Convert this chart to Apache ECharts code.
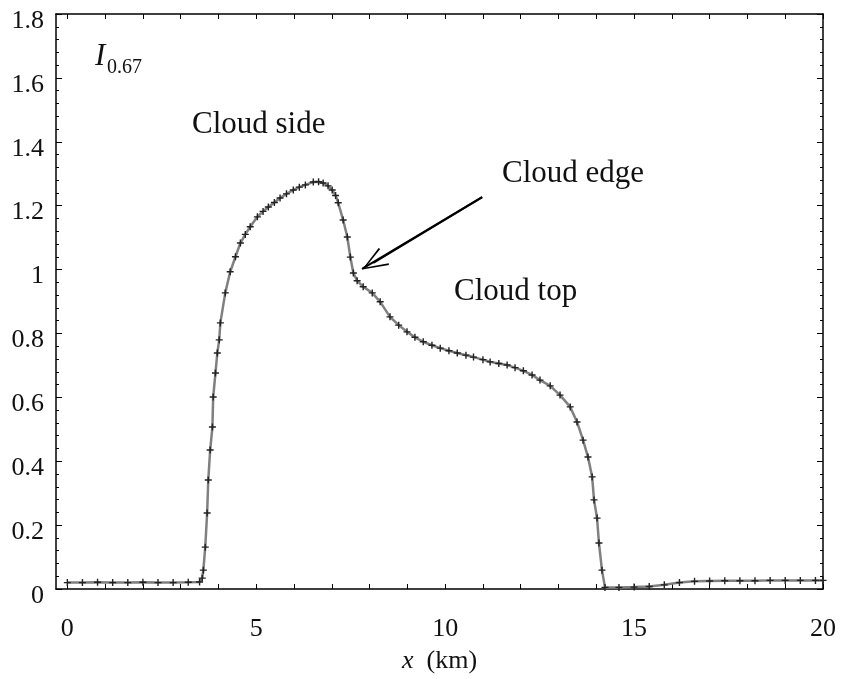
<!DOCTYPE html>
<html>
<head>
<meta charset="utf-8">
<script src="https://cdn.jsdelivr.net/npm/echarts@6/dist/echarts.min.js"></script>
<style>html,body{margin:0;padding:0;background:#fff;}#c{width:841px;height:679px;}</style>
</head>
<body>
<div id="c"></div>
<script>
// x positions (km)
var xKm = [0, 0.4, 0.8, 1.2, 1.6, 2.0, 2.4, 2.8, 3.2, 3.5,
  3.57, 3.6, 3.65, 3.7, 3.73, 3.78, 3.84, 3.86, 3.92, 3.97,
  4.02, 4.05, 4.18, 4.31, 4.45, 4.58, 4.71, 4.84, 5.03, 5.18,
  5.32, 5.48, 5.63, 5.8, 5.98, 6.14, 6.3, 6.51, 6.65, 6.77,
  6.9, 7.01, 7.1, 7.17, 7.3, 7.41, 7.49, 7.57, 7.67, 7.83,
  8.07, 8.28, 8.54, 8.77, 8.99, 9.2, 9.42, 9.65, 9.87, 10.1,
  10.32, 10.55, 10.75, 11.0, 11.19, 11.42, 11.64, 11.85, 12.07, 12.3,
  12.51, 12.78, 13.04, 13.31, 13.49, 13.65, 13.78, 13.89, 13.94, 14.02,
  14.07, 14.15, 14.23, 14.6, 15.0, 15.4, 15.8, 16.2, 16.6, 17.0,
  17.4, 17.8, 18.2, 18.6, 19.0, 19.4, 19.8, 20];
// reflectance I_0.67
var intensity = [0.02, 0.02, 0.021, 0.02, 0.02, 0.021, 0.02, 0.02, 0.021, 0.022,
  0.034, 0.059, 0.131, 0.238, 0.341, 0.435, 0.507, 0.601, 0.676, 0.739,
  0.78, 0.833, 0.927, 0.993, 1.04, 1.083, 1.11, 1.134, 1.165, 1.182,
  1.196, 1.21, 1.224, 1.237, 1.249, 1.258, 1.265, 1.274, 1.275, 1.271,
  1.262, 1.249, 1.232, 1.209, 1.155, 1.102, 1.039, 0.989, 0.965, 0.946,
  0.927, 0.899, 0.852, 0.826, 0.805, 0.788, 0.774, 0.763, 0.754, 0.746,
  0.739, 0.732, 0.726, 0.718, 0.711, 0.706, 0.701, 0.693, 0.683, 0.67,
  0.654, 0.636, 0.607, 0.57, 0.523, 0.466, 0.413, 0.351, 0.279, 0.222,
  0.144, 0.059, 0.005, 0.005, 0.006, 0.008, 0.013, 0.02, 0.024, 0.025,
  0.026, 0.026, 0.026, 0.027, 0.027, 0.027, 0.027, 0.027];
var xTickLabels = [0, 5, 10, 15, 20];
var xTickMarks = [0,1,2,3,4,5,6,7,8,9,10,11,12,13,14,15,16,17,18,19,20];
// annotation arrow: tail, tip, and the centre of the arrow head
var arrowFrom = [10.98, 1.227];
var arrowTo = [7.80, 1.002];
var arrowHeadCentre = [8.098, 1.021];

var pts = xKm.map(function (x, i) { return [x, intensity[i]]; });
var FONT = 'Liberation Serif';
var axisLineStyle = { show: true, onZero: false, lineStyle: { color: '#000', width: 1.5 } };

var chart = echarts.init(document.getElementById('c'));
chart.setOption({
  animation: false,
  backgroundColor: '#fff',
  grid: { left: 56, right: 18, top: 14, bottom: 89 },
  xAxis: [{
    type: 'value', min: -0.3, max: 20, position: 'bottom',
    axisLine: axisLineStyle,
    axisTick: { show: true, inside: true, length: 5, customValues: xTickMarks, lineStyle: { color: '#000' } },
    axisLabel: { customValues: xTickLabels, fontFamily: FONT, fontSize: 26, color: '#111', margin: 27 },
    splitLine: { show: false },
    name: '{i|x}  (km)', nameLocation: 'middle', nameGap: 59,
    nameTextStyle: { fontFamily: FONT, fontSize: 26, color: '#111',
      rich: { i: { fontFamily: FONT, fontStyle: 'italic', fontSize: 26, color: '#111' } } }
  }, {
    type: 'value', min: -0.3, max: 20, position: 'top',
    axisLine: axisLineStyle,
    axisTick: { show: true, inside: true, length: 5, customValues: xTickMarks, lineStyle: { color: '#000' } },
    axisLabel: { show: false }, splitLine: { show: false }
  }],
  yAxis: [{
    type: 'value', min: 0, max: 1.8, interval: 0.2, position: 'left',
    axisLine: axisLineStyle,
    axisTick: { show: true, inside: true, length: 6, lineStyle: { color: '#000' } },
    minorTick: { show: true, splitNumber: 5, length: 3, lineStyle: { color: '#000' } },
    axisLabel: { fontFamily: FONT, fontSize: 26, color: '#111', margin: 12, verticalAlign: 'top', lineHeight: 14 },
    splitLine: { show: false }
  }, {
    type: 'value', min: 0, max: 1.8, interval: 0.2, position: 'right',
    axisLine: axisLineStyle,
    axisTick: { show: true, inside: true, length: 6, lineStyle: { color: '#000' } },
    minorTick: { show: true, splitNumber: 5, length: 3, lineStyle: { color: '#000' } },
    axisLabel: { show: false }, splitLine: { show: false }
  }],
  series: [{
    type: 'line',
    data: pts,
    xAxisIndex: 0, yAxisIndex: 0,
    showAllSymbol: true,
    symbol: 'path://M-1,-5 L1,-5 L1,-1 L5,-1 L5,1 L1,1 L1,5 L-1,5 L-1,1 L-5,1 L-5,-1 L-1,-1 Z',
    symbolSize: 7,
    itemStyle: { color: '#222' },
    lineStyle: { color: '#808080', width: 2.5 },
    markLine: {
      silent: true,
      symbol: ['none', 'none'],
      symbolSize: [20, 26],
      label: { show: false },
      lineStyle: { color: '#000', width: 2, type: 'solid' },
      data: [
        [{ coord: arrowFrom }, { coord: arrowTo }],
        [{ coord: arrowFrom, symbol: 'none' },
         { coord: arrowHeadCentre, symbol: 'path://M0,0 L9,24 L7.4,24.7 L0,3.6 L-7.4,24.7 L-9,24 Z' }]
      ]
    }
  }],
  graphic: [
    { type: 'text', left: 95, top: 41, style: { text: 'I', font: 'italic 31px "Liberation Serif"', fill: '#111' } },
    { type: 'text', left: 107, top: 58, style: { text: '0.67', font: '20px "Liberation Serif"', fill: '#111' } },
    { type: 'text', left: 192, top: 109, style: { text: 'Cloud side', font: '31px "Liberation Serif"', fill: '#111' } },
    { type: 'text', left: 502, top: 158, style: { text: 'Cloud edge', font: '31px "Liberation Serif"', fill: '#111' } },
    { type: 'text', left: 454, top: 276, style: { text: 'Cloud top', font: '31px "Liberation Serif"', fill: '#111' } }
  ]
});
</script>
</body>
</html>
